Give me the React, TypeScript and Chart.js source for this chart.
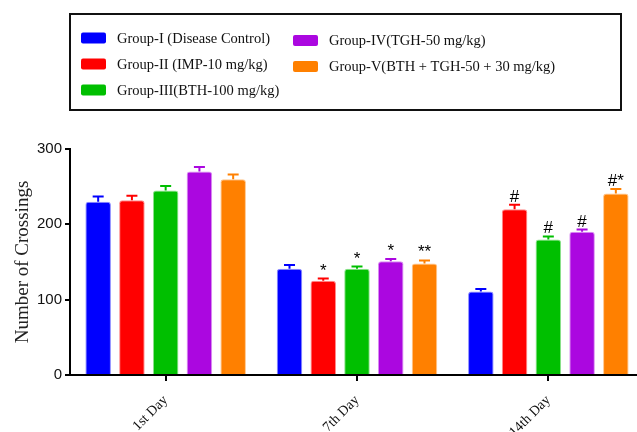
import { useEffect, useRef } from "react";
import { Chart, registerables } from "chart.js";

Chart.register(...registerables);

const days = ["1st Day", "7th Day", "14th Day"];
const groupNames = [
  "Group-I (Disease Control)",
  "Group-II (IMP-10 mg/kg)",
  "Group-III(BTH-100 mg/kg)",
  "Group-IV(TGH-50 mg/kg)",
  "Group-V(BTH + TGH-50 + 30 mg/kg)",
];
const colors = ["#0000FF", "#FF0000", "#00BF00", "#AB07E0", "#FF8000"];

const group1 = [230, 141, 111];
const group2 = [232, 125, 220];
const group3 = [245, 141, 180];
const group4 = [270, 151, 190];
const group5 = [260, 148, 241];

const err1 = [7, 5, 3];
const err2 = [6, 3, 6];
const err3 = [6, 3, 4];
const err4 = [6, 3, 3];
const err5 = [6, 4, 6];

const mark1 = ["", "", ""];
const mark2 = ["", "*", "#"];
const mark3 = ["", "*", "#"];
const mark4 = ["", "*", "#"];
const mark5 = ["", "**", "#*"];

const yTicks = [0, 100, 200, 300];

const values = [group1, group2, group3, group4, group5];
const errors = [err1, err2, err3, err4, err5];
const marks = [mark1, mark2, mark3, mark4, mark5];

function withAlpha(hex: string, a: number) {
  const r = parseInt(hex.slice(1, 3), 16);
  const g = parseInt(hex.slice(3, 5), 16);
  const b = parseInt(hex.slice(5, 7), 16);
  return `rgba(${r},${g},${b},${a})`;
}

const errorBarPlugin = {
  id: "errorBars",
  afterDatasetsDraw(chart: any) {
    const ctx = chart.ctx;
    const yScale = chart.scales.y;
    chart.data.datasets.forEach((ds: any, di: number) => {
      const meta = chart.getDatasetMeta(di);
      meta.data.forEach((el: any, i: number) => {
        const v = values[di][i];
        const e = errors[di][i];
        const yTop = yScale.getPixelForValue(v + e);
        const yBar = el.y;
        ctx.save();
        ctx.strokeStyle = colors[di];
        ctx.lineWidth = 2;
        ctx.beginPath();
        ctx.moveTo(el.x, yBar);
        ctx.lineTo(el.x, yTop);
        ctx.moveTo(el.x - 5.5, yTop);
        ctx.lineTo(el.x + 5.5, yTop);
        ctx.stroke();
        const m = marks[di][i];
        if (m) {
          ctx.fillStyle = "#000";
          ctx.font = "17px 'Liberation Sans'";
          ctx.textAlign = "center";
          ctx.textBaseline = "alphabetic";
          ctx.fillText(m, el.x, yTop - 3);
        }
        ctx.restore();
      });
    });
  },
};

const legendPlugin = {
  id: "boxLegend",
  afterDraw(chart: any) {
    const ctx = chart.ctx;
    ctx.save();
    ctx.strokeStyle = "#111";
    ctx.lineWidth = 2;
    ctx.strokeRect(70, 14, 551, 96);
    const pos = [
      [81, 38],
      [81, 64],
      [81, 90],
      [293, 40.5],
      [293, 66.5],
    ];
    groupNames.forEach((name, i) => {
      const [x, y] = pos[i];
      ctx.fillStyle = colors[i];
      ctx.beginPath();
      (ctx as any).roundRect(x, y - 5.5, 25, 11, 2);
      ctx.fill();
      ctx.fillStyle = "#111";
      ctx.font = "14.5px 'Liberation Serif'";
      ctx.textAlign = "left";
      ctx.textBaseline = "middle";
      ctx.fillText(name, x + 36, y + 1);
    });
    ctx.restore();
  },
};

export default function App() {
  const ref = useRef<HTMLCanvasElement | null>(null);
  useEffect(() => {
    document.body.style.margin = "0";
    document.body.style.overflow = "hidden";
    if (!ref.current) return;
    const chart = new Chart(ref.current, {
      type: "bar",
      data: {
        labels: days,
        datasets: values.map((vals, i) => ({
          label: groupNames[i],
          data: vals,
          backgroundColor: colors[i],
          borderColor: withAlpha(colors[i], 0.45),
          borderWidth: 1,
          borderRadius: { topLeft: 3, topRight: 3, bottomLeft: 0, bottomRight: 0 },
          borderSkipped: "bottom",
          categoryPercentage: 0.882,
          barPercentage: 0.757,
        })),
      },
      options: {
        animation: false,
        responsive: false,
        layout: { padding: { top: 149, left: 0, right: 0, bottom: 0 } },
        plugins: {
          legend: { display: false },
          tooltip: { enabled: false },
        },
        scales: {
          x: {
            offset: true,
            afterFit: (s: any) => {
              s.height = 57;
            },
            grid: {
              offset: false,
              drawOnChartArea: false,
              drawTicks: true,
              tickLength: 6,
              color: "#000",
              lineWidth: 2,
            },
            border: { display: true, color: "#000", width: 2 },
            ticks: {
              color: "#111",
              font: { family: "'Liberation Serif'", size: 14 },
              minRotation: 45,
              maxRotation: 45,
              padding: 11,
            },
          },
          y: {
            min: 0,
            max: 300,
            afterFit: (s: any) => {
              s.width = 70;
            },
            afterBuildTicks: (s: any) => {
              s.ticks = yTicks.map((v) => ({ value: v }));
            },
            grid: {
              drawOnChartArea: false,
              drawTicks: true,
              tickLength: 5,
              color: "#000",
              lineWidth: 2,
            },
            border: { display: true, color: "#000", width: 2 },
            ticks: {
              color: "#111",
              font: { family: "'Liberation Sans'", size: 15 },
              padding: 3,
            },
            title: {
              display: true,
              text: "Number of Crossings",
              color: "#222",
              font: { family: "'Liberation Serif'", size: 19 },
              padding: { top: 12, bottom: 0 },
            },
          },
        },
      },
      plugins: [errorBarPlugin, legendPlugin],
    });
    return () => chart.destroy();
  }, []);
  return (
    <div style={{ position: "absolute", left: 0, top: 0, width: 644, height: 432 }}>
      <canvas ref={ref} width={644} height={432} />
    </div>
  );
}
